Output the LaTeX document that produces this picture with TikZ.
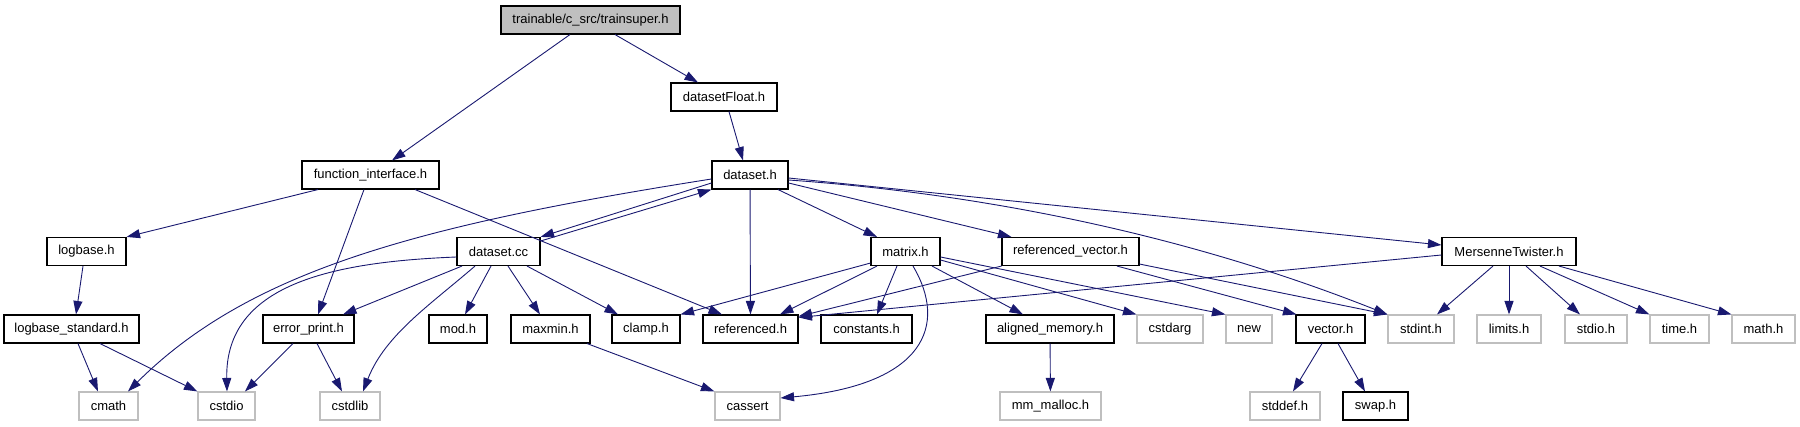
\documentclass[tikz,border=0pt]{standalone}
\usepackage{fontspec}
\setmainfont{Liberation Sans}
\usepackage{xcolor}
\usepackage{tikz}
\usetikzlibrary{arrows.meta}
\definecolor{cedge}{HTML}{191970}
\definecolor{cgrey}{HTML}{BFBFBF}
\tikzset{
  hdr/.style={rectangle, draw=black, line width=1.1pt, inner sep=0pt,
              minimum height=28, font=\fontsize{13}{15}\selectfont},
  cur/.style={hdr, fill=cgrey},
  ext/.style={hdr, draw=cgrey},
  dep/.style={-{Triangle[length=13.5pt,width=9pt]}, line width=0.9pt, color=cedge},
}

\begin{document}
\begin{tikzpicture}[x=1pt, y=-1pt]
  \useasboundingbox (0,0) rectangle (1800,427);

  % -- top of the graph -------------------------------------------------------
  \node[cur, minimum width=179] at (590.5, 20) (ts)  {trainable/c\_src/trainsuper.h};
  \node[hdr, minimum width=106] at (724, 97)   (dsf) {datasetFloat.h};
  \node[hdr, minimum width=137] at (370.5,175) (fi)  {function\_interface.h};
  \node[hdr, minimum width=76]  at (750, 175)  (dsh) {dataset.h};

  % -- second level -----------------------------------------------------------
  \node[hdr, minimum width=79]  at (86.5, 251.5)  (lb)  {logbase.h};
  \node[hdr, minimum width=83]  at (498.5, 251.5) (dcc) {dataset.cc};
  \node[hdr, minimum width=69]  at (905.5, 251.5) (mat) {matrix.h};
  \node[hdr, minimum width=137] at (1070.5,251.5) (rv)  {referenced\_vector.h};
  \node[hdr, minimum width=134] at (1509, 251.5)  (mt)  {MersenneTwister.h};

  % -- headers ----------------------------------------------------------------
  \node[hdr, minimum width=135] at (71.5, 329)   (lbs) {logbase\_standard.h};
  \node[hdr, minimum width=91]  at (308.5, 329)  (ep)  {error\_print.h};
  \node[hdr, minimum width=58]  at (458, 329)    (mod) {mod.h};
  \node[hdr, minimum width=79]  at (550.5, 329)  (mxm) {maxmin.h};
  \node[hdr, minimum width=68]  at (646, 329)    (clp) {clamp.h};
  \node[hdr, minimum width=95]  at (750.5, 329)  (ref) {referenced.h};
  \node[hdr, minimum width=91]  at (866.5, 329)  (con) {constants.h};
  \node[hdr, minimum width=128] at (1050, 329)   (al)  {aligned\_memory.h};
  \node[ext, minimum width=66]  at (1170, 329)   (carg){cstdarg};
  \node[ext, minimum width=46]  at (1249, 329)   (new) {new};
  \node[hdr, minimum width=69]  at (1330.5, 329) (vec) {vector.h};
  \node[ext, minimum width=66]  at (1421, 329)   (sti) {stdint.h};
  \node[ext, minimum width=64]  at (1509, 329)   (lim) {limits.h};
  \node[ext, minimum width=62]  at (1596, 329)   (sio) {stdio.h};
  \node[ext, minimum width=59]  at (1679.5, 329) (tim) {time.h};
  \node[ext, minimum width=63]  at (1763.5, 329) (mth) {math.h};

  % -- system headers ---------------------------------------------------------
  \node[ext, minimum width=59]  at (108.5, 406)  (cmath)   {cmath};
  \node[ext, minimum width=57]  at (226.5, 406)  (cstdio)  {cstdio};
  \node[ext, minimum width=60]  at (350, 406)    (cstdlib) {cstdlib};
  \node[ext, minimum width=65]  at (747.5, 406)  (cassert) {cassert};
  \node[ext, minimum width=101] at (1050.5, 406) (mmm)     {mm\_malloc.h};
  \node[ext, minimum width=70]  at (1285, 406)   (sdd)     {stddef.h};
  \node[hdr, minimum width=65]  at (1375.5, 406) (swp)     {swap.h};

  % -- includes ---------------------------------------------------------------
  \draw[dep] ([xshift=-20.5]ts.south) -- ([xshift=21.5]fi.north);
  \draw[dep] ([xshift=24.5]ts.south) -- ([xshift=-26]dsf.north);
  \draw[dep] ([xshift=5]dsf.south) -- ([xshift=-7]dsh.north);

  \draw[dep] ([xshift=-52.5]fi.south) -- (lb.north east);
  \draw[dep] ([xshift=-6.5]fi.south) -- ([xshift=9.5]ep.north);
  \draw[dep] ([xshift=44.5]fi.south) -- ([xshift=-28.5]ref.north);

  \draw[dep] ([yshift=-4]dsh.west) .. controls (420,225) and (250,270) .. ([xshift=19.5]cmath.north);
  \draw[dep] ([yshift=-8]dsh.west) -- (dcc.north east);
  \draw[dep] ([yshift=10.5]dcc.east) -- (dsh.south west);
  \draw[dep] (dsh) -- (ref);
  \draw[dep] ([xshift=28]dsh.south) -- ([xshift=-28.5]mat.north);
  \draw[dep] ([yshift=-8]dsh.east) -- ([xshift=10]rv.north west);
  \draw[dep] ([yshift=-5]dsh.east) .. controls (1000,195) and (1200,240) .. (sti.north west);
  \draw[dep] ([yshift=-3]dsh.east) -- ([yshift=6.5]mt.west);

  \draw[dep] ([xshift=-3.5]lb.south) -- ([xshift=4.5]lbs.north);
  \draw[dep] ([xshift=6.5]lbs.south) -- ([xshift=-10.5]cmath.north);
  \draw[dep] ([xshift=28.5]lbs.south) -- (cstdio.north west);
  \draw[dep] ([xshift=-15.5]ep.south) -- ([xshift=18.5]cstdio.north);
  \draw[dep] ([xshift=8.5]ep.south) -- ([xshift=-8]cstdlib.north);

  \draw[dep] ([yshift=-5.5]dcc.west) .. controls (330,262) and (225,285) .. ([xshift=0.5]cstdio.north);
  \draw[dep] ([xshift=-36.5]dcc.south) -- ([xshift=34.5]ep.north);
  \draw[dep] ([xshift=-23.5]dcc.south) .. controls (430,305) and (385,335) .. ([xshift=13]cstdlib.north);
  \draw[dep] ([xshift=-7.5]dcc.south) -- ([xshift=7]mod.north);
  \draw[dep] ([xshift=9.5]dcc.south) -- ([xshift=-10.5]mxm.north);
  \draw[dep] ([xshift=28.5]dcc.south) -- ([xshift=-28]clp.north);
  \draw[dep] ([xshift=36.5]mxm.south) -- (cassert.north west);

  \draw[dep] ([yshift=3]mat.south west) -- (clp.north east);
  \draw[dep] ([xshift=-28.5]mat.south) -- ([xshift=29.5]ref.north);
  \draw[dep] ([xshift=-8.5]mat.south) -- ([xshift=10.5]con.north);
  \draw[dep] ([xshift=7.5]mat.south) .. controls (948,325) and (925,385) .. ([yshift=8]cassert.east);
  \draw[dep] ([xshift=26.5]mat.south) -- ([xshift=-27]al.north);
  \draw[dep] ([yshift=-8.5]mat.east) -- (carg.north west);
  \draw[dep] ([yshift=-5.5]mat.east) -- (new.north west);

  \draw[dep] (rv.south west) -- ([yshift=-2]ref.north east);
  \draw[dep] ([xshift=46.5]rv.south) -- ([xshift=1]vec.north west);
  \draw[dep] ([yshift=2]rv.south east) -- (sti.north west);

  \draw[dep] ([yshift=-3.5]mt.west) -- ([yshift=-3]ref.north east);
  \draw[dep] ([xshift=-16]mt.south) -- ([xshift=16]sti.north);
  \draw[dep] (mt) -- (lim);
  \draw[dep] ([xshift=17]mt.south) -- ([xshift=-16]sio.north);
  \draw[dep] ([xshift=31]mt.south) -- (tim.north west);
  \draw[dep] ([xshift=50]mt.south) -- (mth.north west);

  \draw[dep] (al) -- (mmm);
  \draw[dep] ([xshift=-8.5]vec.south) -- ([xshift=8]sdd.north);
  \draw[dep] ([xshift=7.5]vec.south) -- ([xshift=-10.5]swp.north);
\end{tikzpicture}
\end{document}
